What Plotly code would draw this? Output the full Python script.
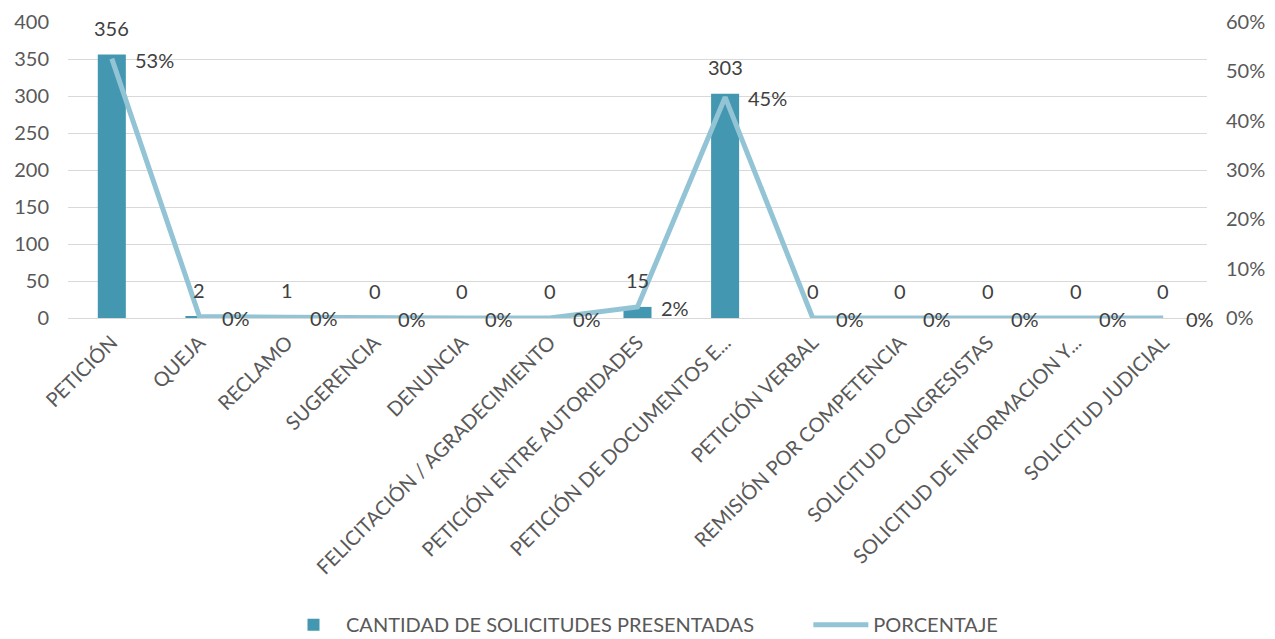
import plotly.graph_objects as go

categorias = [
    "PETICIÓN", "QUEJA", "RECLAMO", "SUGERENCIA", "DENUNCIA",
    "FELICITACIÓN / AGRADECIMIENTO", "PETICIÓN ENTRE AUTORIDADES",
    "PETICIÓN DE DOCUMENTOS E...", "PETICIÓN VERBAL",
    "REMISIÓN POR COMPETENCIA", "SOLICITUD CONGRESISTAS",
    "SOLICITUD DE INFORMACION Y...", "SOLICITUD JUDICIAL",
]
cantidad = [356, 2, 1, 0, 0, 0, 15, 303, 0, 0, 0, 0, 0]
total = sum(cantidad)
porcentaje = [c / total for c in cantidad]

COLOR_BARRA = "#4397B0"
COLOR_LINEA = "#92C4D5"
COLOR_TEXTO = "#404040"
COLOR_EJE = "#595959"
FUENTE = "Lato, Open Sans, sans-serif"

fig = go.Figure()
fig.add_trace(go.Bar(
    x=categorias, y=cantidad, name="CANTIDAD DE SOLICITUDES PRESENTADAS",
    marker=dict(color=COLOR_BARRA, line=dict(width=0)), width=0.32,
    yaxis="y", legend="legend",
))
fig.add_trace(go.Scatter(
    x=categorias, y=porcentaje, name="PORCENTAJE", mode="lines",
    line=dict(color=COLOR_LINEA, width=5), yaxis="y2", legend="legend2",
))

# Value labels above each bar
for cat, val in zip(categorias, cantidad):
    fig.add_annotation(
        x=cat, y=val, xref="x", yref="y", text=str(val), showarrow=False,
        yanchor="middle", yshift=27, font=dict(size=20, color=COLOR_TEXTO),
    )
# Percentage labels to the right of each line point
for cat, p in zip(categorias, porcentaje):
    fig.add_annotation(
        x=cat, y=p, xref="x", yref="y2", text=f"{p:.0%}", showarrow=False,
        xanchor="left", yanchor="middle", xshift=21, yshift=-1,
        font=dict(size=20, color=COLOR_TEXTO),
    )

leyenda = dict(
    orientation="h", xanchor="left", yref="paper", y=-1.036,
    yanchor="middle", font=dict(size=20, color=COLOR_EJE), itemwidth=55,
    bgcolor="rgba(0,0,0,0)",
)

fig.update_layout(
    width=1275, height=639,
    margin=dict(l=68, r=68, t=22, b=321, autoexpand=False),
    paper_bgcolor="white", plot_bgcolor="white",
    font=dict(family=FUENTE, size=20, color=COLOR_EJE),
    bargap=0.68,
    showlegend=True,
    legend=dict(leyenda, x=0.187),
    legend2=dict(leyenda, x=0.650),
    xaxis=dict(
        tickangle=-45, showgrid=False, showline=False, ticks="",
        ticklabelstandoff=8,
        tickfont=dict(size=20, color=COLOR_EJE), range=[-0.5, 12.5],
    ),
    yaxis=dict(
        range=[0, 400], dtick=50, showgrid=True, gridcolor="#D9D9D9",
        gridwidth=1, zeroline=True, zerolinecolor="#D9D9D9", zerolinewidth=1,
        showline=False, ticks="", ticklabelstandoff=18,
        tickfont=dict(size=20, color=COLOR_EJE),
    ),
    yaxis2=dict(
        range=[0, 0.6], dtick=0.1, tickformat=".0%", overlaying="y",
        side="right", showgrid=False, zeroline=False, showline=False,
        ticks="", ticklabelstandoff=18,
        tickfont=dict(size=20, color=COLOR_EJE),
    ),
)

fig.write_html("out.html")
